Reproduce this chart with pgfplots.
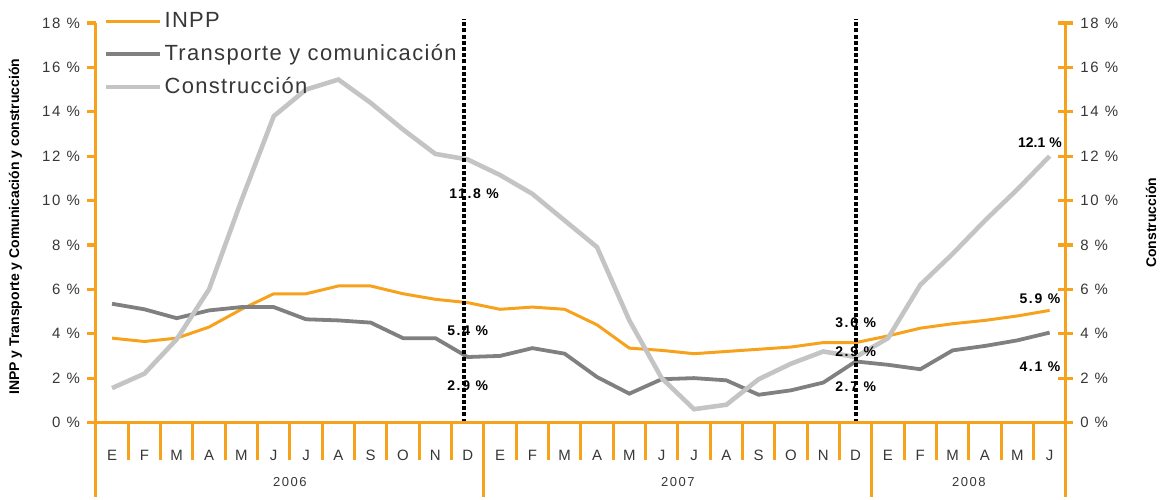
\documentclass[border=0pt]{standalone}
\usepackage{fontspec}
\setmainfont{Liberation Sans}
\newfontfamily\spaced[LetterSpace=12]{Liberation Sans}
\newfontfamily\legfont[LetterSpace=6]{Liberation Sans}
\usepackage{pgfplots}
\usepackage{pgfplotstable}
\pgfplotsset{compat=1.18}

\definecolor{inpp}{RGB}{247,162,29}
\definecolor{trans}{RGB}{128,128,128}
\definecolor{cons}{RGB}{196,196,196}
\definecolor{txt}{RGB}{55,55,55}

% month index 0 = E 2006 ... 29 = J 2008
\pgfplotstableread{
x  inpp  trans cons
0  3.80  5.35  1.55
1  3.65  5.10  2.20
2  3.80  4.70  3.75
3  4.30  5.05  6.00
4  5.10  5.20  10.00
5  5.80  5.20  13.80
6  5.80  4.65  15.00
7  6.15  4.60  15.45
8  6.15  4.50  14.40
9  5.80  3.80  13.20
10 5.55  3.80  12.10
11 5.40  2.95  11.85
12 5.10  3.00  11.15
13 5.20  3.35  10.30
14 5.10  3.10  9.10
15 4.40  2.05  7.90
16 3.35  1.30  4.60
17 3.25  1.95  2.00
18 3.10  2.00  0.60
19 3.20  1.90  0.80
20 3.30  1.25  1.95
21 3.40  1.45  2.65
22 3.60  1.80  3.20
23 3.60  2.75  2.95
24 3.90  2.60  3.80
25 4.25  2.40  6.20
26 4.45  3.25  7.60
27 4.60  3.45  9.10
28 4.80  3.70  10.50
29 5.05  4.05  12.00
}\data

\begin{document}
\begin{tikzpicture}
\begin{axis}[
  scale only axis, width=485.5pt, height=200pt,
  xmin=-0.5, xmax=29.5, ymin=0, ymax=18,
  clip=false,
  axis line style={draw=none},
  xtick={0,...,29},
  xticklabels={E,F,M,A,M,J,J,A,S,O,N,D,E,F,M,A,M,J,J,A,S,O,N,D,E,F,M,A,M,J},
  xtick style={draw=none},
  xticklabel style={font=\spaced\fontsize{7.5}{9}\selectfont, text=txt, anchor=center, yshift=-12pt},
  ytick={0,2,...,18},
  yticklabels={0 \%,2 \%,4 \%,6 \%,8 \%,10 \%,12 \%,14 \%,16 \%,18 \%},
  ytick pos=left, tick align=outside, major tick length=4.5pt,
  ytick style={inpp, line width=1.6pt},
  yticklabel style={font=\spaced\fontsize{7.5}{9}\selectfont, text=txt},
  ylabel={INPP y Transporte y Comunicación y construcción},
  every axis y label/.style={at={(rel axis cs:-0.083,0.49)}, rotate=90, anchor=center,
    font=\bfseries\fontsize{7}{8}\selectfont, text=black},
  legend style={at={(rel axis cs:0.008,1.033)}, anchor=north west, draw=none, fill=none,
    font=\legfont\fontsize{11}{13}\selectfont, text=txt, row sep=5pt, inner sep=0pt,
    nodes={inner sep=1pt}},
  legend cell align=left,
  legend image code/.code={\draw[#1] (0pt,0pt) -- (27pt,0pt);},
]
\addplot[inpp, line width=1.5pt] table[x=x, y=inpp] {\data};
\addlegendentry{INPP}
\addplot[trans, line width=1.9pt] table[x=x, y=trans] {\data};
\addlegendentry{Transporte y comunicación}
\addplot[cons, line width=2.3pt] table[x=x, y=cons] {\data};
\addlegendentry{Construcción}

% value labels
\begin{scope}[every node/.style={font=\spaced\bfseries\fontsize{7}{8}\selectfont, text=black}]
\node at (axis cs:11.2,10.3) {11.8 \%};
\node at (axis cs:11.0,4.15) {5.4 \%};
\node at (axis cs:11.0,1.67) {2.9 \%};
\node at (axis cs:23.0,4.5) {3.6 \%};
\node at (axis cs:23.0,3.2) {2.9 \%};
\node at (axis cs:23.0,1.62) {2.7 \%};
\node[font=\bfseries\fontsize{7}{8}\selectfont] at (axis cs:28.7,12.6) {12.1 \%};
\node at (axis cs:28.7,5.58) {5.9 \%};
\node at (axis cs:28.7,2.52) {4.1 \%};
\end{scope}

% December markers
\addplot[black, line width=2pt, dash pattern=on 2pt off 1.1pt, forget plot] coordinates {(10.9,0) (10.9,18.2)};
\addplot[black, line width=2pt, dash pattern=on 2pt off 1.1pt, forget plot] coordinates {(23,0) (23,18.2)};

% frame and month grid
\draw[inpp, line width=1.6pt] (axis cs:-0.5,-3.375) -- (axis cs:-0.5,18);
\draw[inpp, line width=1.6pt] (axis cs:29.5,-3.375) -- (axis cs:29.5,18);
\draw[inpp, line width=1.6pt] (axis cs:-0.5,0) -- (axis cs:29.5,0);
\pgfplotsinvokeforeach{0.5,1.5,...,28.5}{\draw[inpp, line width=1.6pt] (axis cs:#1,0) -- (axis cs:#1,-1.67);}
\draw[inpp, line width=1.6pt] (axis cs:11.5,0) -- (axis cs:11.5,-3.375);
\draw[inpp, line width=1.6pt] (axis cs:23.5,0) -- (axis cs:23.5,-3.375);
\begin{scope}[every node/.style={font=\spaced\fontsize{6.5}{8}\selectfont, text=txt}]
\node at (axis cs:5.5,-2.7) {2006};
\node at (axis cs:17.5,-2.7) {2007};
\node at (axis cs:26.5,-2.7) {2008};
\end{scope}
\path (rel axis cs:-0.09887,-0.1875) rectangle (rel axis cs:1.09887,1.0575);
\end{axis}

\begin{axis}[
  scale only axis, width=485.5pt, height=200pt,
  xmin=-0.5, xmax=29.5, ymin=0, ymax=18,
  axis line style={draw=none},
  xtick=\empty,
  ytick={0,2,...,18},
  yticklabels={0 \%,2 \%,4 \%,6 \%,8 \%,10 \%,12 \%,14 \%,16 \%,18 \%},
  ytick pos=right, yticklabel pos=right, tick align=center, major tick length=7.5pt,
  ytick style={inpp, line width=1.6pt},
  yticklabel style={font=\spaced\fontsize{7.5}{9}\selectfont, text=txt},
  ylabel={Construcción},
  every axis y label/.style={at={(rel axis cs:1.088,0.5)}, rotate=90, anchor=center,
    font=\bfseries\fontsize{7}{8}\selectfont, text=black},
]
\end{axis}
\end{tikzpicture}
\end{document}
